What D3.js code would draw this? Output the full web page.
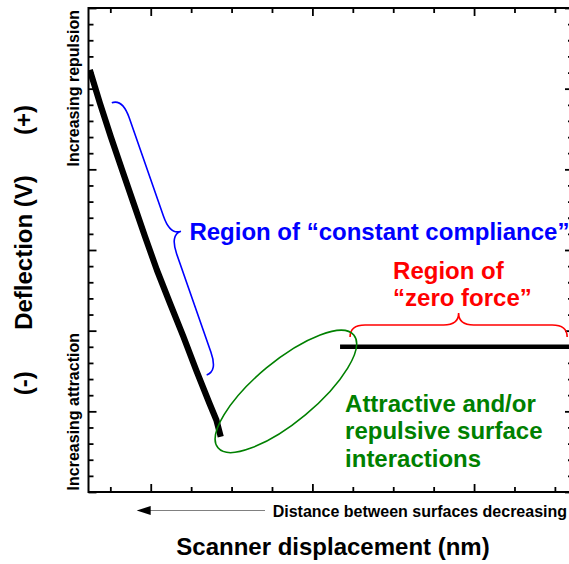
<!DOCTYPE html>
<html>
<head>
<meta charset="utf-8">
<script src="https://cdn.jsdelivr.net/npm/d3@7/dist/d3.min.js"></script>
<style>
  html, body { margin: 0; padding: 0; background: #fff; }
  svg { display: block; }
  text { font-family: "Liberation Sans", Arial, Helvetica, sans-serif; font-weight: bold; }
</style>
</head>
<body>
<svg id="chart" width="569" height="564"></svg>
<script>
// Approach curve: scanner displacement (nm) vs cantilever deflection (V)
const contactX = [-37.7, -31.4, -24.7, -17.7, -10.6, -3.5, 3.8, 11.9, 20.2, 28.1, 36.3, 40.6, 43.3];
const contactY = [1.716, 1.509, 1.302, 1.096, 0.889, 0.682, 0.476, 0.270, 0.063, -0.144, -0.350, -0.454, -0.557];
const zeroForceX = [117.1, 261.2];
const zeroForceY = [0, 0];

// Axis extents and tick positions
const xDomain = [-38.5, 261.2];
const yDomain = [-0.9, 2.1];
const xMajorTicks = [0, 100, 200];
const xMinorTicks = [-25, 25, 50, 75, 125, 150, 175, 225, 250];
const yMajorTicks = [-0.9, -0.4, 0.1, 0.6, 1.1, 1.6, 2.1];
const yMinorTicks = d3.range(-0.8, 2.1, 0.1).filter(v => !yMajorTicks.some(m => Math.abs(m - v) < 1e-6));

// Annotations (in data units)
const complianceBrace = { from: [-24.1, 1.513], to: [34.6, -0.175] };
const zeroForceBrace = { from: [123.3, 0.061], to: [257.6, 0.061] };
const interactionEllipse = { from: [41.6, -0.626], to: [125.6, 0.073] };
const complianceLabel = { x: 23.9, y: 0.662, lines: ["Region of \u201cconstant compliance\u201d"] };
const zeroForceLabel = { x: 149.9, y: 0.420, lines: ["Region of", "\u201czero force\u201d"] };
const interactionLabel = { x: 120.2, y: -0.404, lines: ["Attractive and/or", "repulsive surface", "interactions"] };

const svg = d3.select("#chart");
const plot = { left: 88.5, right: 573, top: 8, bottom: 492 };

const x = d3.scaleLinear().domain(xDomain).range([plot.left, plot.right]);
const y = d3.scaleLinear().domain(yDomain).range([plot.bottom, plot.top]);

svg.append("defs").append("clipPath").attr("id", "plotClip")
  .append("rect")
  .attr("x", plot.left).attr("y", plot.top)
  .attr("width", plot.right - plot.left).attr("height", plot.bottom - plot.top);

// Inward ticks on all four sides
function tickGroup(axisGen, transform, size, values) {
  const g = svg.append("g").attr("transform", transform)
    .call(axisGen.tickValues(values).tickSizeInner(size).tickSizeOuter(0).tickFormat(""));
  g.select(".domain").remove();
  g.selectAll(".tick line").attr("stroke", "#000").attr("stroke-width", 1.8);
}
tickGroup(d3.axisBottom(x), `translate(0,${plot.bottom})`, -5, xMinorTicks);
tickGroup(d3.axisBottom(x), `translate(0,${plot.bottom})`, -8, xMajorTicks);
tickGroup(d3.axisTop(x), `translate(0,${plot.top})`, -5, xMinorTicks);
tickGroup(d3.axisTop(x), `translate(0,${plot.top})`, -8, xMajorTicks);
tickGroup(d3.axisLeft(y), `translate(${plot.left},0)`, -5, yMinorTicks);
tickGroup(d3.axisLeft(y), `translate(${plot.left},0)`, -8, yMajorTicks);
tickGroup(d3.axisRight(y), `translate(${plot.right},0)`, -5, yMinorTicks);
tickGroup(d3.axisRight(y), `translate(${plot.right},0)`, -8, yMajorTicks);

svg.append("rect")
  .attr("x", plot.left).attr("y", plot.top)
  .attr("width", plot.right - plot.left).attr("height", plot.bottom - plot.top)
  .attr("fill", "none").attr("stroke", "#000").attr("stroke-width", 2);

// Data curves
const line = d3.line().x(d => x(d[0])).y(d => y(d[1]));
const curves = svg.append("g").attr("clip-path", "url(#plotClip)");
curves.append("path")
  .attr("d", line(d3.zip(contactX, contactY)))
  .attr("fill", "none").attr("stroke", "#000")
  .attr("stroke-width", 6.2).attr("stroke-linejoin", "round");
curves.append("path")
  .attr("d", line(d3.zip(zeroForceX, zeroForceY)))
  .attr("fill", "none").attr("stroke", "#000").attr("stroke-width", 4.5);

// Curly brace between two data points; the point of the brace sits on the side given by the normal
function bracePath(from, to, h, r) {
  const x1 = x(from[0]), y1 = y(from[1]), x2 = x(to[0]), y2 = y(to[1]);
  const L = Math.hypot(x2 - x1, y2 - y1);
  const du = [(x2 - x1) / L, (y2 - y1) / L];
  const nv = [du[1], -du[0]];
  const p = (u, v) => [x1 + du[0] * u + nv[0] * v, y1 + du[1] * u + nv[1] * v].map(n => n.toFixed(2)).join(",");
  const m = L / 2;
  return `M${p(0, 0)} Q${p(0, h)} ${p(r, h)} L${p(m - r, h)} Q${p(m, h)} ${p(m, 2 * h)}` +
         ` Q${p(m, h)} ${p(m + r, h)} L${p(L - r, h)} Q${p(L, h)} ${p(L, 0)}`;
}
svg.append("path")
  .attr("d", bracePath(complianceBrace.from, complianceBrace.to, 11.5, 20))
  .attr("fill", "none").attr("stroke", "#0000ff").attr("stroke-width", 1.6);
svg.append("path")
  .attr("d", bracePath(zeroForceBrace.from, zeroForceBrace.to, 12, 15))
  .attr("fill", "none").attr("stroke", "#ff0000").attr("stroke-width", 1.6);

// Ellipse enclosing the jump-to-contact region
{
  const ax = x(interactionEllipse.from[0]), ay = y(interactionEllipse.from[1]);
  const bx = x(interactionEllipse.to[0]), by = y(interactionEllipse.to[1]);
  const cx = (ax + bx) / 2, cy = (ay + by) / 2;
  const rx = Math.hypot(bx - ax, by - ay) / 2;
  const angle = Math.atan2(by - ay, bx - ax) * 180 / Math.PI;
  svg.append("ellipse")
    .attr("cx", cx).attr("cy", cy).attr("rx", rx).attr("ry", 30.5)
    .attr("transform", `rotate(${angle},${cx},${cy})`)
    .attr("fill", "none").attr("stroke", "#008000").attr("stroke-width", 1.6);
}

// Region labels
function label(spec, color, size, lineGap) {
  const t = svg.append("text")
    .attr("x", x(spec.x)).attr("y", y(spec.y))
    .attr("fill", color).attr("font-size", size);
  spec.lines.forEach((s, i) => {
    t.append("tspan").attr("x", x(spec.x)).attr("dy", i === 0 ? 0 : lineGap).text(s);
  });
}
label(complianceLabel, "#0000ff", 24, 27);
label(zeroForceLabel, "#ff0000", 24, 27);
label(interactionLabel, "#008000", 24, 27.5);

// Y-axis labels
function vText(txt, cx, cy, size) {
  svg.append("text")
    .attr("transform", `translate(${cx},${cy}) rotate(-90)`)
    .attr("text-anchor", "middle").attr("font-size", size).attr("fill", "#000")
    .text(txt);
}
vText("Deflection (V)", 31.7, 252.5, 24);
vText("(+)", 31.7, 120, 24);
vText("(-)", 31.7, 383.3, 24);
vText("Increasing repulsion", 79, 88.3, 16);
vText("Increasing attraction", 79, 411.7, 16);

// X-axis labels and direction arrow
svg.append("line")
  .attr("x1", 148).attr("y1", 510.5).attr("x2", 265).attr("y2", 510.5)
  .attr("stroke", "#808080").attr("stroke-width", 1);
svg.append("path")
  .attr("d", "M136.7,510.5 L150.7,506 L150.7,515 Z")
  .attr("fill", "#000");
svg.append("text")
  .attr("x", 272.7).attr("y", 516.7).attr("font-size", 16).attr("fill", "#000")
  .text("Distance between surfaces decreasing");
svg.append("text")
  .attr("x", 333).attr("y", 555).attr("text-anchor", "middle").attr("font-size", 24).attr("fill", "#000")
  .text("Scanner displacement (nm)");
</script>
</body>
</html>
